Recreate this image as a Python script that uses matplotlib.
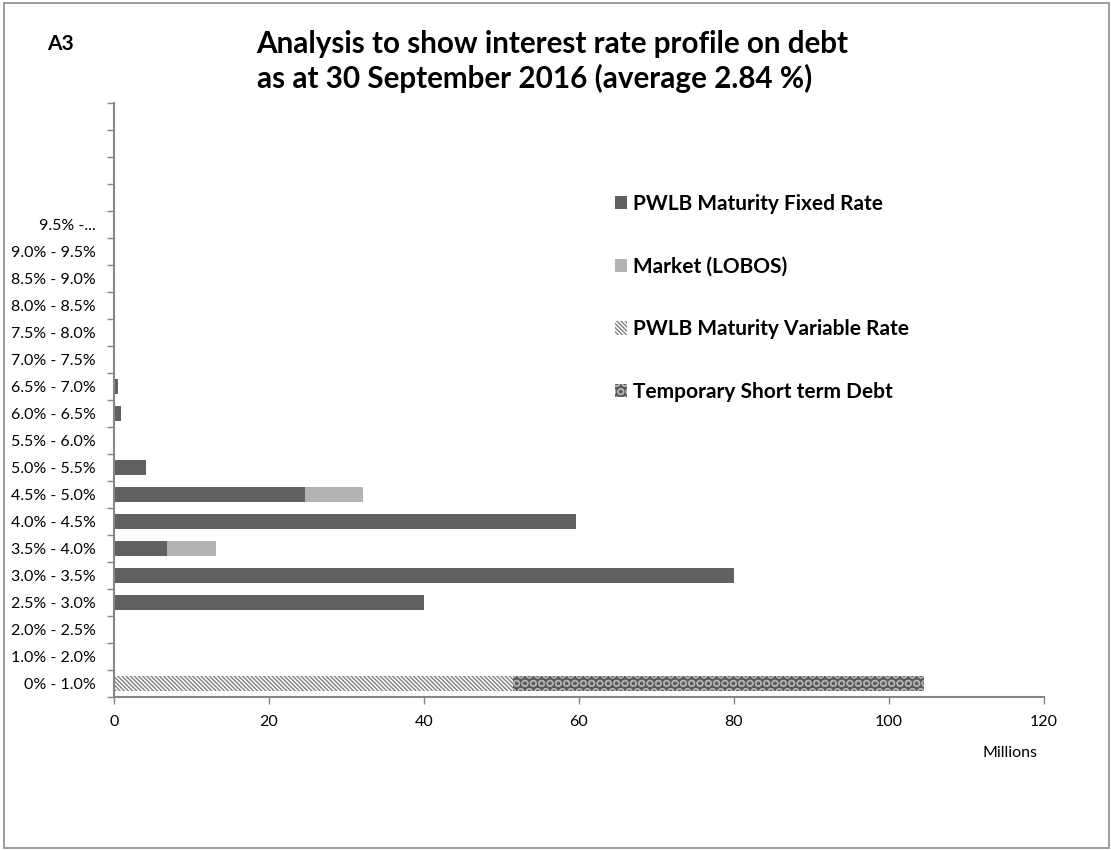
import numpy as np
import matplotlib.pyplot as plt
from matplotlib.patches import Rectangle

plt.rcParams['font.family'] = ['Lato', 'DejaVu Sans']
plt.rcParams['hatch.linewidth'] = 1.0

# Interest rate bands, bottom to top (four spare rows kept empty at the top)
bands = ['0% - 1.0%', '1.0% - 2.0%', '2.0% - 2.5%', '2.5% - 3.0%', '3.0% - 3.5%',
         '3.5% - 4.0%', '4.0% - 4.5%', '4.5% - 5.0%', '5.0% - 5.5%', '5.5% - 6.0%',
         '6.0% - 6.5%', '6.5% - 7.0%', '7.0% - 7.5%', '7.5% - 8.0%', '8.0% - 8.5%',
         '8.5% - 9.0%', '9.0% - 9.5%', '9.5% -...', '', '', '', '']

# Debt in millions per band
pwlb_fixed = [0, 0, 0, 40.0, 80.0, 6.9, 59.6, 24.7, 4.1, 0, 0.9, 0.5,
              0, 0, 0, 0, 0, 0, 0, 0, 0, 0]
market_lobos = [0, 0, 0, 0, 0, 6.3, 0, 7.4, 0, 0, 0, 0,
                0, 0, 0, 0, 0, 0, 0, 0, 0, 0]
pwlb_variable = [51.5, 0, 0, 0, 0, 0, 0, 0, 0, 0, 0, 0,
                 0, 0, 0, 0, 0, 0, 0, 0, 0, 0]
temp_short = [53.0, 0, 0, 0, 0, 0, 0, 0, 0, 0, 0, 0,
              0, 0, 0, 0, 0, 0, 0, 0, 0, 0]

series = [
    ('PWLB Maturity Fixed Rate', pwlb_fixed, dict(color='#606060')),
    ('Market (LOBOS)', market_lobos, dict(color='#b3b3b3')),
    ('PWLB Maturity Variable Rate', pwlb_variable,
     dict(facecolor='white', edgecolor='#7f7f7f', hatch='\\' * 8, linewidth=0)),
    ('Temporary Short term Debt', temp_short,
     dict(facecolor='#5a5a5a', edgecolor='#b0b0b0', hatch='OO', linewidth=0)),
]

fig = plt.figure(figsize=(11.11, 8.5), dpi=100)
fig.patches.append(Rectangle((0.004, 0.002), 0.994, 0.995, transform=fig.transFigure,
                             fill=False, edgecolor='#8c8c8c', linewidth=1.2))

ax = fig.add_axes([0.1026, 0.18, 0.837, 0.6988])
y = np.arange(len(bands))
left = np.zeros(len(bands))
for name, vals, style in series:
    vals = np.array(vals)
    ax.barh(y, vals, left=left, height=0.54, label=name, **style)
    left += vals

ax.set_xlim(0, 120)
ax.set_ylim(-0.5, len(bands) - 0.5)
ax.set_xticks(np.arange(0, 121, 20))
ax.set_yticks(y)
ax.set_yticklabels(bands)
ax.set_yticks(np.arange(-0.5, len(bands), 1), minor=True)
ax.tick_params(axis='y', which='major', length=0, pad=13, labelsize=11.5, colors='black')
ax.tick_params(axis='y', which='minor', length=5, width=1, color='#868686')
ax.tick_params(axis='x', which='major', length=5, width=1, color='#868686',
               labelsize=11.5, pad=8)

for side in ['top', 'right']:
    ax.spines[side].set_visible(False)
for side in ['left', 'bottom']:
    ax.spines[side].set_color('#868686')
    ax.spines[side].set_linewidth(1.5)

fig.text(0.909, 0.114, 'Millions', fontsize=11.5, ha='center', va='center')

fig.text(0.231, 0.948, 'Analysis to show interest rate profile on debt',
         fontsize=21.3, fontweight='bold', ha='left', va='center')
fig.text(0.231, 0.908, 'as at 30 September 2016 (average 2.84 %)',
         fontsize=21.3, fontweight='bold', ha='left', va='center')
fig.text(0.054, 0.948, 'A3', fontsize=15, fontweight='bold', ha='center', va='center')

leg = fig.legend(loc='upper left', bbox_to_anchor=(0.5365, 0.794), frameon=False,
                 handlelength=0.6, handleheight=0.6, handletextpad=0.25,
                 labelspacing=2.05, prop={'weight': 'bold', 'size': 15})

fig.savefig('out.png', dpi=100)
